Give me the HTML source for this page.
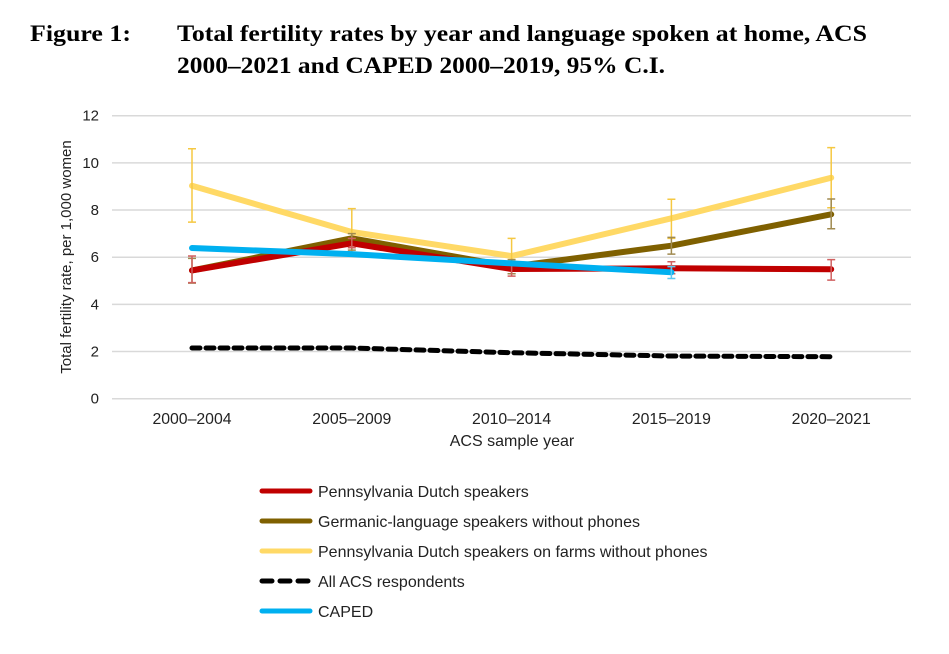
<!DOCTYPE html>
<html><head><meta charset="utf-8"><style>
body{margin:0;background:#fff;width:949px;height:654px;overflow:hidden}
svg{display:block;font-family:"Liberation Sans",sans-serif}
</style></head><body>
<svg width="949" height="654">
<text x="30" y="41" font-family="Liberation Serif" font-weight="bold" font-size="23" textLength="101" lengthAdjust="spacingAndGlyphs">Figure 1:</text>
<text x="177" y="41" font-family="Liberation Serif" font-weight="bold" font-size="23" textLength="690" lengthAdjust="spacingAndGlyphs">Total fertility rates by year and language spoken at home, ACS</text>
<text x="177" y="73" font-family="Liberation Serif" font-weight="bold" font-size="23" textLength="488" lengthAdjust="spacingAndGlyphs">2000–2021 and CAPED 2000–2019, 95% C.I.</text>
<g id="grid"></g><g id="plot"></g><g id="legend"></g>
<text transform="translate(71,257) rotate(-90)" text-anchor="middle" font-size="15" fill="#222">Total fertility rate, per 1,000 women</text>
<text x="512" y="446" text-anchor="middle" font-size="16" fill="#222">ACS sample year</text>
</svg>
<script>
const categories=["2000–2004","2005–2009","2010–2014","2015–2019","2020–2021"];
const yTicks=[0,2,4,6,8,10,12];
const redVals=[5.44,6.59,5.5,5.53,5.49];
const redLo=[4.92,6.4,5.2,5.3,5.03];
const redHi=[6.05,6.8,5.75,5.81,5.9];
const brownVals=[5.44,6.8,5.6,6.49,7.82];
const brownLo=[4.9,6.3,5.3,6.13,7.21];
const brownHi=[5.95,7.0,5.9,6.84,8.47];
const yellowVals=[9.03,7.07,6.05,7.65,9.37];
const yellowLo=[7.49,6.1,5.3,6.8,8.1];
const yellowHi=[10.6,8.06,6.8,8.46,10.65];
const blueVals=[6.39,6.13,5.74,5.36];
const blueLo=[null,null,null,5.1];
const blueHi=[null,null,null,5.6];
const blackVals=[2.15,2.15,1.95,1.81,1.78];
const labels=["Pennsylvania Dutch speakers","Germanic-language speakers without phones","Pennsylvania Dutch speakers on farms without phones","All ACS respondents","CAPED"];
const NS="http://www.w3.org/2000/svg";
const x=i=>192+i*159.8;
const y=v=>398.7-v*23.58;
function mk(tag,attrs,parent){const e=document.createElementNS(NS,tag);for(const k in attrs)e.setAttribute(k,attrs[k]);parent.appendChild(e);return e;}
const grid=document.getElementById('grid'),plot=document.getElementById('plot'),leg=document.getElementById('legend');
yTicks.forEach(t=>{
 const l=mk('line',{x1:112,x2:911,y1:y(t),y2:y(t),stroke:'#d9d9d9','stroke-width':1.5},grid);
 
 
 const tx=mk('text',{x:99,y:y(t)+5,'text-anchor':'end','font-size':15,fill:'#222'},grid);tx.textContent=t;
 
 
});
categories.forEach((c,i)=>{
 const tx=mk('text',{x:x(i),y:424,'text-anchor':'middle','font-size':15.8,fill:'#222'},grid);tx.textContent=c;
 
 
});
function series(vals,lo,hi,color,ecolor,w,name,dash){
 const g=mk('g',{},plot);
 
 
 const p=mk('polyline',{points:vals.map((v,i)=>x(i)+','+y(v)).join(' '),fill:'none',stroke:color,'stroke-width':w,'stroke-linejoin':'round','stroke-linecap':'round'},g);
 if(dash)p.setAttribute('stroke-dasharray',dash);
 
 
 if(lo)vals.forEach((v,i)=>{if(lo[i]==null)return;
  const e=mk('path',{d:`M${x(i)},${y(lo[i])}V${y(hi[i])}M${x(i)-4},${y(lo[i])}h8M${x(i)-4},${y(hi[i])}h8`,stroke:ecolor,'stroke-width':1.5,fill:'none'},g);
  
  
 });
}
series(yellowVals,yellowLo,yellowHi,'#ffd966','#f5c842',6,'series-pa-dutch-farms');
series(brownVals,brownLo,brownHi,'#7f6000','#a08a50',6,'series-germanic');
series(redVals,redLo,redHi,'#c00000','#d06060',6,'series-pa-dutch');
series(blueVals,blueLo,blueHi,'#00b0f0','#60c8f0',6,'series-caped');
series(blackVals,null,null,'#000','#000',5,'series-all-acs','8 6');
const lc=[['#c00000',null],['#7f6000',null],['#ffd966',null],['#000','10 8'],['#00b0f0',null]];
labels.forEach((t,i)=>{
 const yy=491+i*30;
 const ln=mk('line',{x1:262,x2:310,y1:yy,y2:yy,stroke:lc[i][0],'stroke-width':5,'stroke-linecap':'round'},leg);
 if(lc[i][1])ln.setAttribute('stroke-dasharray',lc[i][1]);
 
 
 const tx=mk('text',{x:318,y:yy+6,'font-size':16,fill:'#222'},leg);tx.textContent=t;
 
 
});
</script>
</body></html>
